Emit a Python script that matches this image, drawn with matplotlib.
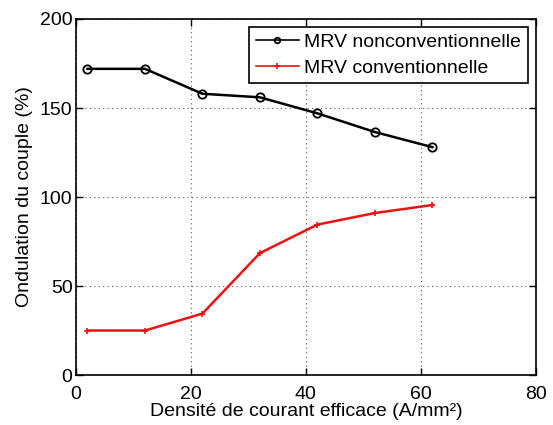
import matplotlib.pyplot as plt

# current density (A/mm²) and torque ripple (%) for both machines
densite = [2, 12, 22, 32, 42, 52, 62]
ondulation_nonconv = [172, 172, 158, 156, 147, 136.5, 128]
ondulation_conv = [25, 25, 34.5, 68.5, 84.5, 91, 95.5]

plt.rcParams['font.family'] = ['Liberation Sans', 'DejaVu Sans']
plt.rcParams['font.size'] = 14

fig = plt.figure(figsize=(5.53, 4.25), dpi=100)
ax = fig.add_axes([0.1374, 0.1176, 0.8316, 0.8377])

ax.plot(densite, ondulation_nonconv, color='black', lw=1.8, marker='o',
        markersize=6, markerfacecolor='none', markeredgewidth=1.3,
        label='MRV nonconventionnelle')
ax.plot(densite, ondulation_conv, color='#ee1111', lw=1.8, marker='+',
        markersize=5, markeredgewidth=1.2, label='MRV conventionnelle')

ax.set_xlim(0, 80)
ax.set_ylim(0, 200)
ax.set_xticks([0, 20, 40, 60, 80])
ax.set_yticks([0, 50, 100, 150, 200])
ax.set_xlabel('Densité de courant efficace (A/mm²)', labelpad=0)
ax.set_ylabel('Ondulation du couple (%)', labelpad=5)

# matlab-like frame: inward ticks on all four sides, dotted grid
ax.tick_params(direction='in', top=True, right=True, length=5, width=1)
ax.tick_params(axis='x', pad=8)
ax.tick_params(axis='y', pad=2.5)
ax.grid(True, linestyle=(0, (1, 3)), color='#555555', linewidth=0.8)
for s in ax.spines.values():
    s.set_linewidth(1.2)

leg = ax.legend(loc='upper right', fancybox=False, framealpha=1,
                edgecolor='black', borderaxespad=0.4, handlelength=2.2,
                handletextpad=0.3, borderpad=0.35, labelspacing=0.4)
leg.get_frame().set_linewidth(1.2)
for h in leg.legend_handles:
    h.set_linewidth(1.2)
    h.set_markersize(4)

fig.savefig('out.png', dpi=100)
